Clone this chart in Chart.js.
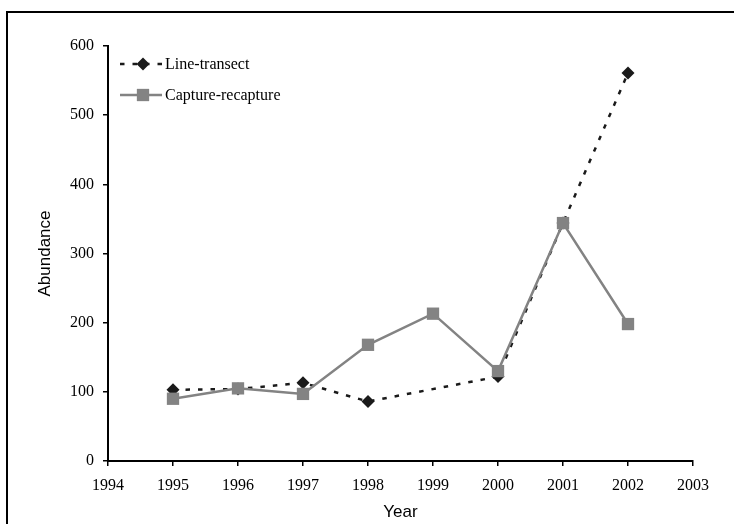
<!DOCTYPE html>
<html>
<head>
<meta charset="utf-8">
<script src="https://cdn.jsdelivr.net/npm/chart.js@4/dist/chart.umd.min.js"></script>
<style>
html,body{margin:0;padding:0;background:#fff;}
#wrap{position:relative;width:734px;height:524px;}
</style>
</head>
<body>
<div id="wrap"><canvas id="c" width="734" height="524"></canvas></div>
<script>
const years = [1995, 1996, 1997, 1998, 1999, 2000, 2001, 2002];
const lineTransect = [103, 104, 113, 86, null, 122, 344, 561];
const captureRecapture = [90, 105, 97, 168, 213, 130, 344, 198];
const seriesNames = ['Line-transect', 'Capture-recapture'];
const xTicks = [1994, 1995, 1996, 1997, 1998, 1999, 2000, 2001, 2002, 2003];
const yTicks = [0, 100, 200, 300, 400, 500, 600];

const toPts = arr => years.map((y, i) => ({x: y, y: arr[i]}));

const frame = {
  id: 'frame',
  beforeDraw(chart) {
    const ctx = chart.ctx;
    ctx.save();
    ctx.fillStyle = '#000';
    ctx.fillRect(6, 11, 728, 2);
    ctx.fillRect(6, 11, 2, 513);
    ctx.restore();
  }
};

const customLegend = {
  id: 'customLegend',
  afterDatasetsDraw(chart) {
    const ctx = chart.ctx;
    const ds = chart.data.datasets;
    const rows = [64, 95];
    ctx.save();
    ds.forEach((d, i) => {
      const y = rows[i];
      ctx.beginPath();
      ctx.strokeStyle = d.borderColor;
      ctx.lineWidth = d.borderWidth;
      ctx.setLineDash(d.borderDash || []);
      ctx.moveTo(120, y);
      ctx.lineTo(162, y);
      ctx.stroke();
      ctx.setLineDash([]);
      ctx.fillStyle = d.pointBackgroundColor;
      ctx.beginPath();
      if (d.pointStyle === 'rectRot') {
        const r = d.pointRadius;
        ctx.moveTo(143, y - r); ctx.lineTo(143 + r, y); ctx.lineTo(143, y + r); ctx.lineTo(143 - r, y); ctx.closePath();
      } else {
        const s = d.pointRadius * Math.SQRT1_2;
        ctx.rect(143 - s, y - s, 2 * s, 2 * s);
      }
      ctx.fill();
      ctx.fillStyle = '#000';
      ctx.font = '16px "Liberation Serif", "Times New Roman", serif';
      ctx.textBaseline = 'middle';
      ctx.textAlign = 'left';
      ctx.fillText(d.label, 165, y + 1);
    });
    ctx.restore();
  }
};

new Chart(document.getElementById('c'), {
  type: 'line',
  data: {
    datasets: [
      {
        label: seriesNames[0],
        data: toPts(lineTransect),
        borderColor: '#1a1a1a',
        borderWidth: 2.5,
        borderDash: [4.5, 8],
        pointStyle: 'rectRot',
        pointRadius: 6.5,
        pointBackgroundColor: '#1a1a1a',
        pointBorderWidth: 0,
        spanGaps: true,
        tension: 0,
        order: 1
      },
      {
        label: seriesNames[1],
        data: toPts(captureRecapture),
        borderColor: '#838383',
        borderWidth: 2.5,
        pointStyle: 'rect',
        pointRadius: 8.7,
        pointBackgroundColor: '#838383',
        pointBorderWidth: 0,
        tension: 0,
        order: 0
      }
    ]
  },
  options: {
    responsive: false,
    animation: false,
    devicePixelRatio: 1,
    layout: {padding: {top: 46, right: 41, left: 0, bottom: 0}},
    plugins: {legend: {display: false}, tooltip: {enabled: false}},
    elements: {point: {hoverRadius: 0}},
    scales: {
      x: {
        type: 'linear',
        min: xTicks[0],
        max: xTicks[xTicks.length - 1],
        afterBuildTicks: s => { s.ticks = xTicks.map(v => ({value: v})); },
        afterFit: s => { s.height = 63; },
        ticks: {
          color: '#000',
          font: {family: '"Liberation Serif", "Times New Roman", serif', size: 16},
          padding: 10,
          callback: v => String(v),
          maxRotation: 0,
          autoSkip: false
        },
        grid: {drawOnChartArea: false, color: '#000', tickLength: 5, lineWidth: 1.5},
        border: {color: '#000', width: 2},
        title: {
          display: true,
          text: 'Year',
          color: '#000',
          font: {family: '"Liberation Sans", Arial, sans-serif', size: 17},
          padding: {top: 0, bottom: 1}
        }
      },
      y: {
        min: yTicks[0],
        max: yTicks[yTicks.length - 1],
        afterBuildTicks: s => { s.ticks = yTicks.map(v => ({value: v})); },
        afterFit: s => { s.width = 108; },
        ticks: {
          color: '#000',
          font: {family: '"Liberation Serif", "Times New Roman", serif', size: 16},
          padding: 9,
          autoSkip: false
        },
        grid: {drawOnChartArea: false, color: '#000', tickLength: 5, lineWidth: 1.5},
        border: {color: '#000', width: 2},
        title: {
          display: true,
          text: 'Abundance',
          color: '#000',
          font: {family: '"Liberation Sans", Arial, sans-serif', size: 17},
          padding: {top: 35, bottom: 0}
        }
      }
    }
  },
  plugins: [frame, customLegend]
});
</script>
</body>
</html>
